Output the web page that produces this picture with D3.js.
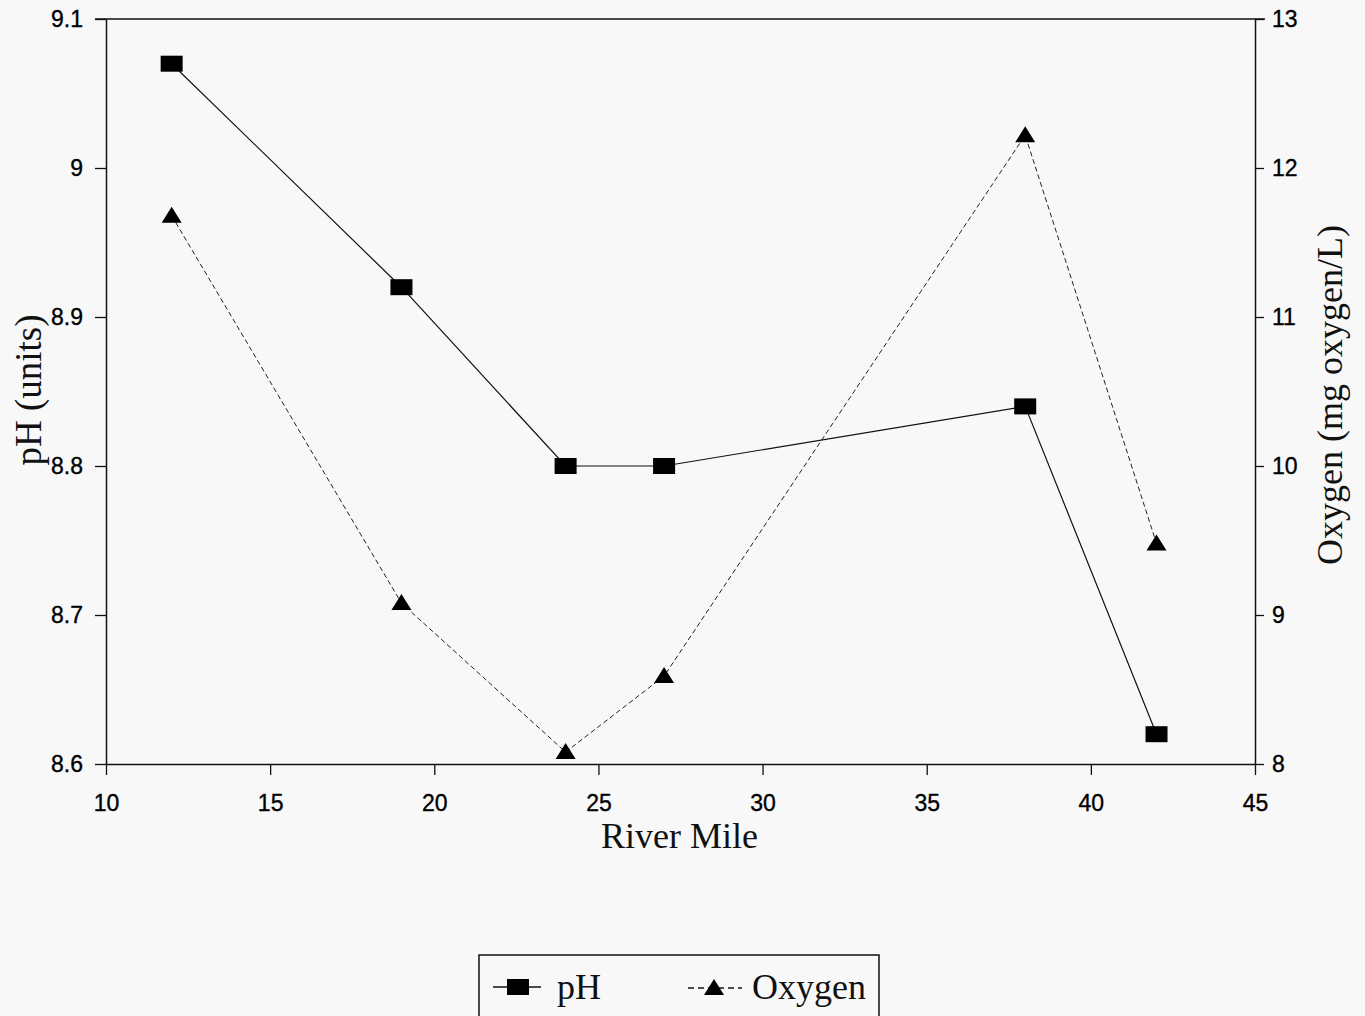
<!DOCTYPE html>
<html>
<head>
<meta charset="utf-8">
<script src="https://cdn.jsdelivr.net/npm/d3@7"></script>
<style>
  body { margin: 0; background: #f8f8f8; }
  svg { display: block; }
</style>
</head>
<body>
<svg id="chart"></svg>
<script>
// data
const riverMile = [12, 19, 24, 27, 38, 42];
const phValues = [9.07, 8.92, 8.80, 8.80, 8.84, 8.62];
const oxygenValues = [11.68, 9.08, 8.08, 8.59, 12.22, 9.48];
const xTicks = [10, 15, 20, 25, 30, 35, 40, 45];
const phTicks = [8.6, 8.7, 8.8, 8.9, 9.0, 9.1];
const oxyTicks = [8, 9, 10, 11, 12, 13];

const width = 1365, height = 1016;
const margin = {top: 19, right: 110, bottom: 252, left: 106};

const svg = d3.select('#chart')
    .attr('width', width)
    .attr('height', height);

const innerW = width - margin.left - margin.right;
const innerH = height - margin.top - margin.bottom;

const chart = svg.append('g')
    .attr('transform', `translate(${margin.left}, ${margin.top})`);

const xscale = d3.scaleLinear().domain([10, 45]).range([0, innerW]);
const yLeft = d3.scaleLinear().domain([8.6, 9.1]).range([innerH, 0]);
const yRight = d3.scaleLinear().domain([8, 13]).range([innerH, 0]);

const tickFont = '"Liberation Sans", Arial, sans-serif';
const serif = '"Liberation Serif", "Times New Roman", serif';

function styleAxis(g) {
    g.select('.domain').attr('stroke', '#111').attr('stroke-width', 1.5);
    g.selectAll('.tick line').attr('stroke', '#111').attr('stroke-width', 1.3);
    g.selectAll('.tick text')
        .attr('fill', '#000')
        .attr('stroke', '#000')
        .attr('stroke-width', 0.35)
        .style('font-family', tickFont)
        .style('font-size', '23px');
}

// top border
chart.append('line')
    .attr('x1', -11).attr('x2', innerW + 10)
    .attr('y1', 0).attr('y2', 0)
    .attr('stroke', '#111').attr('stroke-width', 1.6);

chart.append('g')
    .attr('transform', `translate(0, ${innerH})`)
    .call(d3.axisBottom(xscale).tickValues(xTicks).tickSize(11).tickPadding(20).tickSizeOuter(0))
    .call(styleAxis);

chart.append('g')
    .call(d3.axisLeft(yLeft).tickValues(phTicks).tickSize(11).tickPadding(12).tickSizeOuter(0)
        .tickFormat(d => d === 9 ? '9' : d3.format('.1f')(d)))
    .call(styleAxis);

chart.append('g')
    .attr('transform', `translate(${innerW}, 0)`)
    .call(d3.axisRight(yRight).tickValues(oxyTicks).tickSize(9).tickPadding(8).tickSizeOuter(0)
        .tickFormat(d3.format('d')))
    .call(styleAxis);

// axis titles
chart.append('text')
    .attr('x', innerW / 2 - 1)
    .attr('y', innerH + 84)
    .attr('text-anchor', 'middle')
    .style('font-family', serif)
    .style('font-size', '36px')
    .attr('fill', '#111')
    .text('River Mile');

svg.append('text')
    .attr('transform', `translate(41, 390) rotate(-90)`)
    .attr('text-anchor', 'middle')
    .style('font-family', serif)
    .style('font-size', '37px')
    .attr('fill', '#111')
    .text('pH (units)');

svg.append('text')
    .attr('transform', `translate(1342, 395) rotate(-90)`)
    .attr('text-anchor', 'middle')
    .style('font-family', serif)
    .style('font-size', '36px')
    .attr('fill', '#111')
    .text('Oxygen (mg oxygen/L)');

// series
const phData = riverMile.map((x, i) => ({x: x, y: phValues[i]}));
const oxyData = riverMile.map((x, i) => ({x: x, y: oxygenValues[i]}));

const phLine = d3.line().x(d => xscale(d.x)).y(d => yLeft(d.y));
const oxyLine = d3.line().x(d => xscale(d.x)).y(d => yRight(d.y));

chart.append('path')
    .attr('d', oxyLine(oxyData))
    .attr('fill', 'none')
    .attr('stroke', '#222')
    .attr('stroke-width', 1)
    .attr('stroke-dasharray', '5,3');

chart.append('path')
    .attr('d', phLine(phData))
    .attr('fill', 'none')
    .attr('stroke', '#111')
    .attr('stroke-width', 1.2);

const tri = 'M0,-9 L10,7 L-10,7 Z';

chart.selectAll('.oxy')
    .data(oxyData)
    .enter()
    .append('path')
    .attr('class', 'oxy')
    .attr('d', tri)
    .attr('transform', d => `translate(${xscale(d.x)}, ${yRight(d.y)})`)
    .attr('fill', '#000');

chart.selectAll('.ph')
    .data(phData)
    .enter()
    .append('rect')
    .attr('class', 'ph')
    .attr('x', d => xscale(d.x) - 11)
    .attr('y', d => yLeft(d.y) - 8)
    .attr('width', 22)
    .attr('height', 16)
    .attr('fill', '#000');

// legend
const legend = svg.append('g');
legend.append('rect')
    .attr('x', 479).attr('y', 955)
    .attr('width', 400).attr('height', 80)
    .attr('fill', 'none')
    .attr('stroke', '#111')
    .attr('stroke-width', 1.5);

legend.append('line')
    .attr('x1', 493).attr('x2', 541)
    .attr('y1', 987).attr('y2', 987)
    .attr('stroke', '#111').attr('stroke-width', 1.5);
legend.append('rect')
    .attr('x', 507).attr('y', 979)
    .attr('width', 22).attr('height', 16)
    .attr('fill', '#000');
legend.append('text')
    .attr('x', 557).attr('y', 999)
    .style('font-family', serif)
    .style('font-size', '36px')
    .attr('fill', '#111')
    .text('pH');

legend.append('line')
    .attr('x1', 688).attr('x2', 742)
    .attr('y1', 988).attr('y2', 988)
    .attr('stroke', '#111').attr('stroke-width', 1.3)
    .attr('stroke-dasharray', '6,4');
legend.append('path')
    .attr('d', tri)
    .attr('transform', 'translate(714, 988)')
    .attr('fill', '#000');
legend.append('text')
    .attr('x', 752).attr('y', 999)
    .style('font-family', serif)
    .style('font-size', '36px')
    .attr('fill', '#111')
    .text('Oxygen');
</script>
</body>
</html>
